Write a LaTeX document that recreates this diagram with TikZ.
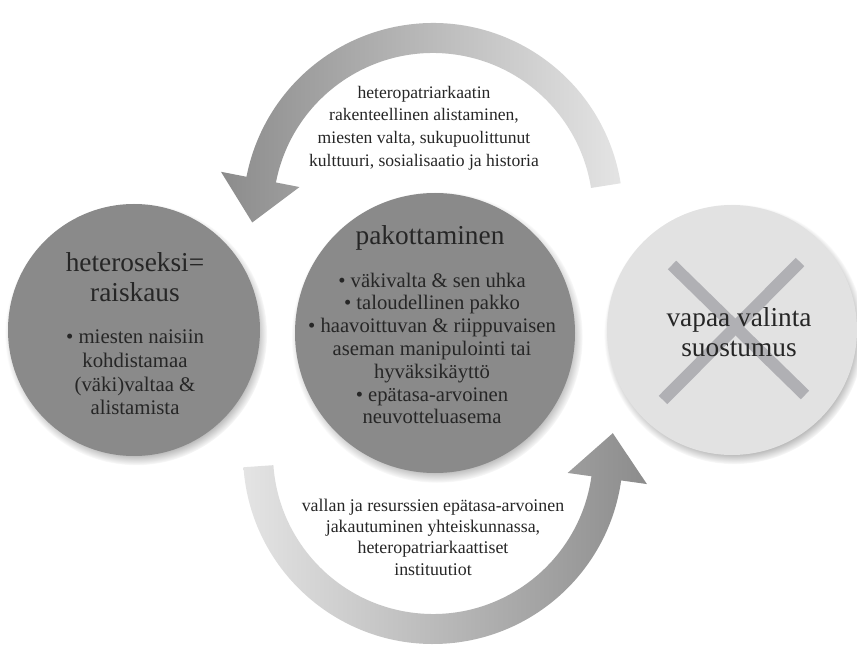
\documentclass[tikz,border=0pt]{standalone}
\usepackage{fontspec}
\setmainfont{Liberation Serif}
\usetikzlibrary{shadows}

\definecolor{discgray}{HTML}{8A8A8A}
\definecolor{palegray}{HTML}{E2E2E2}
\definecolor{crossgray}{HTML}{B0B0B4}
\definecolor{inkgray}{HTML}{262626}
\definecolor{arrowdark}{HTML}{8C8C8C}
\definecolor{arrowpale}{HTML}{E4E4E4}

\tikzset{
  disc/.style={circle, minimum size=#1, inner sep=0pt,
    circular drop shadow={shadow scale=1.04, shadow xshift=1.5pt, shadow yshift=-3pt}},
  headtext/.style={text=inkgray, align=center, font=\fontsize{20.5}{23}\selectfont},
  bodytext/.style={text=inkgray, align=center, font=\fontsize{15.6}{17.6}\selectfont},
  arrowtext/.style={text=inkgray, align=center, font=\fontsize{13.2}{17}\selectfont},
}

\begin{document}
\begin{tikzpicture}[x=0.75pt, y=0.75pt]
    \useasboundingbox (0,0) rectangle (857,-645);

    % upper arrow, right to left
    \coordinate (upc) at (433,-213);
    \begin{scope}[shift={(upc)}]
    \shade[left color=arrowdark, right color=arrowpale]
        (9:190) arc[start angle=9, end angle=169, radius=190] -- (169:216)
        -- (183:181) -- (169:136) -- (169:160)
        arc[start angle=169, end angle=9, radius=160] -- cycle;
    \end{scope}

    % lower arrow, left to right
    \coordinate (lowc) at (433,-454);
    \begin{scope}[shift={(lowc)}]
    \shade[left color=arrowpale, right color=arrowdark]
        (184:190) arc[start angle=184, end angle=352, radius=190] -- (352:216)
        -- (366.6:181) -- (352:136) -- (352:160)
        arc[start angle=352, end angle=184, radius=160] -- cycle;
    \end{scope}

    % circles
    \node[disc=189pt, fill=discgray] (rape) at (134,-330) {};
    \node[disc=210pt, fill=discgray] (force) at (435,-333) {};
    \node[disc=187.5pt, fill=palegray] (consent) at (732,-330) {};

    \draw[crossgray, line width=9pt] (672,-265) -- (805,-395);
    \draw[crossgray, line width=9pt] (800,-262) -- (663,-400);

    % texts
    \node[headtext] (rapehead) at (135,-277) {heteroseksi=\\raiskaus};
    \node[bodytext, font=\fontsize{15.6}{17.8}\selectfont] (rapebody) at (135,-372.5)
        {• miesten naisiin\\kohdistamaa\\(väki)valtaa \&\\alistamista};

    \node[headtext] (forcehead) at (430,-238) {pakottaminen};
    \node[bodytext, font=\fontsize{15.5}{17.1}\selectfont] (forcebody) at (432,-348.5)
        {• väkivalta \& sen uhka\\• taloudellinen pakko\\• haavoittuvan \& riippuvaisen\\aseman manipulointi tai\\hyväksikäyttö\\• epätasa-arvoinen\\neuvotteluasema};

    \node[headtext, font=\fontsize{20.5}{22.5}\selectfont] (consenttext) at (739,-332)
        {vapaa valinta\\suostumus};

    \node[arrowtext] (uptext) at (424,-128)
        {heteropatriarkaatin\\rakenteellinen alistaminen,\\miesten valta, sukupuolittunut\\kulttuuri, sosialisaatio ja historia};
    \node[arrowtext, font=\fontsize{13.4}{16}\selectfont] (lowtext) at (433,-537)
        {vallan ja resurssien epätasa-arvoinen\\jakautuminen yhteiskunnassa,\\heteropatriarkaattiset\\instituutiot};
\end{tikzpicture}
\end{document}
